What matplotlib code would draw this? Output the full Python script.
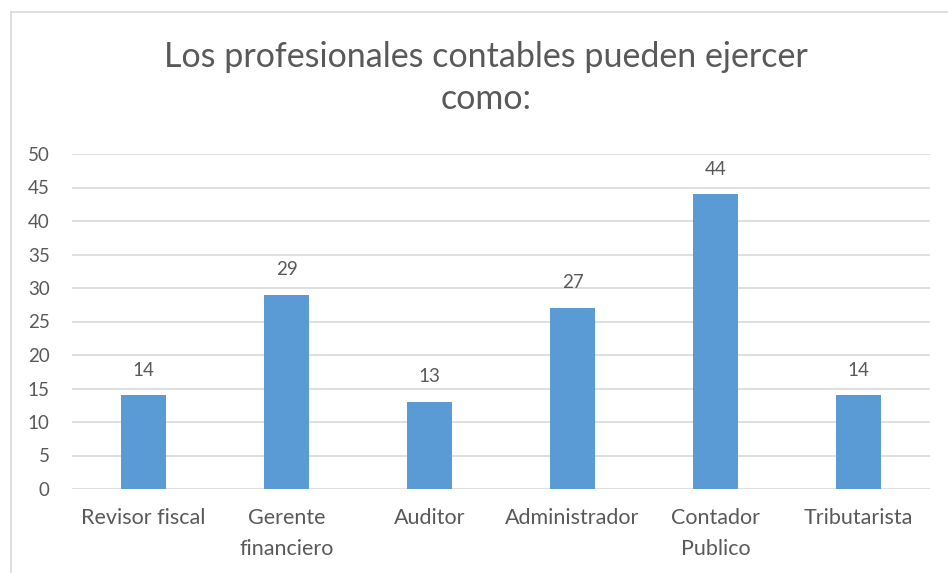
import matplotlib
matplotlib.use("Agg")
import matplotlib.pyplot as plt
from matplotlib.lines import Line2D

categories = ["Revisor fiscal", "Gerente\nfinanciero", "Auditor", "Administrador", "Contador\nPublico", "Tributarista"]
values = [14, 29, 13, 27, 44, 14]
yticks = [0, 5, 10, 15, 20, 25, 30, 35, 40, 45, 50]
title = "Los profesionales contables pueden ejercer\ncomo:"

W, H = 948, 573
plt.rcParams['font.family'] = ['Lato', 'DejaVu Sans']
txt = '#595959'
fig = plt.figure(figsize=(W/100, H/100), dpi=100)
ax = fig.add_axes([72/W, 1-489/H, (930-72)/W, (489-154)/H])

x = list(range(len(categories)))
bars = ax.bar(x, values, width=0.315, color='#5b9bd5', zorder=3)
ax.set_xlim(-0.5, len(categories)-0.5)
ax.set_ylim(0, 50)
ax.set_yticks(yticks)
ax.set_yticklabels([str(t) for t in yticks], color=txt, fontsize=13.5)
ax.set_xticks(x)
ax.set_xticklabels(categories, color=txt, fontsize=15.5, linespacing=1.65)
ax.tick_params(axis='both', length=0)
ax.tick_params(axis='y', pad=16)
ax.tick_params(axis='x', pad=14)
ax.grid(axis='y', color='#d9d9d9', linewidth=1.2, zorder=0)
for s in ax.spines.values():
    s.set_visible(False)

for b, v in zip(bars, values):
    ax.annotate(str(v), (b.get_x()+b.get_width()/2, v), xytext=(0, 12), textcoords='offset points',
                ha='center', va='bottom', color=txt, fontsize=13.5)

fig.text(486/W, 1-41/H, title, ha='center', va='top', fontsize=24.5, color=txt, linespacing=1.38)

fig.add_artist(Line2D([10.5/W, 10.5/W], [0, 1-12/H], color='#d9d9d9', lw=1.2, transform=fig.transFigure))
fig.add_artist(Line2D([10.5/W, 1], [1-12/H, 1-12/H], color='#d9d9d9', lw=1.2, transform=fig.transFigure))

fig.savefig('out.png', dpi=100)
